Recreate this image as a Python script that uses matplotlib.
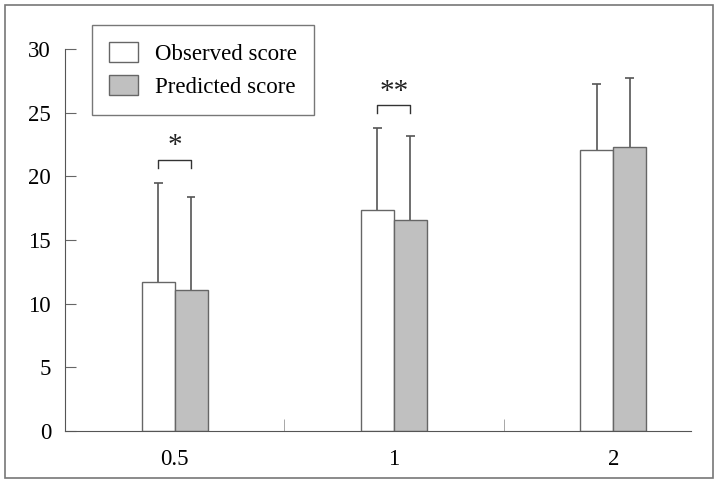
import matplotlib.pyplot as plt
import numpy as np
from matplotlib.patches import Rectangle, Patch

plt.rcParams['font.family'] = ['Liberation Serif', 'DejaVu Serif']

# values
groups = ['0.5', '1', '2']
observed = [11.7, 17.4, 22.1]
observed_err = [7.8, 6.4, 5.2]
predicted = [11.1, 16.6, 22.3]
predicted_err = [7.3, 6.6, 5.45]
# significance brackets: group index, bracket height, label
sig_groups = [0, 1]
sig_heights = [21.3, 25.6]
sig_labels = ['*', '**']

fig = plt.figure(figsize=(7.18, 4.84), dpi=100)
ax = fig.add_axes([0.0905, 0.110, 0.872, 0.788])

x = np.arange(len(groups))
w = 0.15
edge = '#666666'
ax.bar(x - w / 2, observed, w, color='white', edgecolor=edge, linewidth=1, zorder=2)
ax.bar(x + w / 2, predicted, w, color='#c0c0c0', edgecolor=edge, linewidth=1, zorder=2)

# upper-only error bars with a small cap
cap = 0.02
for xs, vals, errs in [(x - w / 2, observed, observed_err), (x + w / 2, predicted, predicted_err)]:
    tops = np.array(vals) + np.array(errs)
    ax.vlines(xs, vals, tops, color='#555555', lw=1.2, zorder=1)
    ax.hlines(tops, xs - cap, xs + cap, color='#555555', lw=1.2, zorder=1)

for g, h, lab in zip(sig_groups, sig_heights, sig_labels):
    ax.plot([g - w / 2, g - w / 2, g + w / 2, g + w / 2], [h - 0.6, h, h, h - 0.6],
            color='#333333', lw=1)
    ax.text(g, h + 0.05, lab, ha='center', va='bottom', fontsize=21, color='#222222')

ax.set_xlim(-0.5, 2.355)
ax.set_ylim(0, 30)
ax.set_yticks(np.arange(0, 31, 5))
ax.set_xticks(x)
ax.set_xticklabels(groups)
ax.set_xticks([0.5, 1.5], minor=True)
ax.tick_params(axis='x', which='major', length=0, pad=13, labelsize=16.5)
ax.tick_params(axis='x', which='minor', direction='in', length=9, color='#999999')
ax.tick_params(axis='y', direction='in', length=8, pad=10, labelsize=16.5, color='#666666')

for s in ['top', 'right']:
    ax.spines[s].set_visible(False)
for s in ['left', 'bottom']:
    ax.spines[s].set_color('#555555')

handles = [Patch(facecolor='white', edgecolor=edge, label='Observed score'),
           Patch(facecolor='#c0c0c0', edgecolor=edge, label='Predicted score')]
leg = fig.legend(handles=handles, loc='upper left', bbox_to_anchor=(92 / 718, 1 - 25 / 484),
                 fontsize=16.5, frameon=True, fancybox=False, edgecolor='#555555',
                 handlelength=1.25, handleheight=0.95, handletextpad=0.75,
                 borderpad=0.75, labelspacing=0.45, borderaxespad=0)
leg.get_frame().set_linewidth(1)

fig.patches.append(Rectangle((5 / 718, 6 / 484), 708 / 718, 473 / 484, transform=fig.transFigure,
                             fill=False, edgecolor='#777777', linewidth=1.2))

fig.savefig('out.png', dpi=100)
